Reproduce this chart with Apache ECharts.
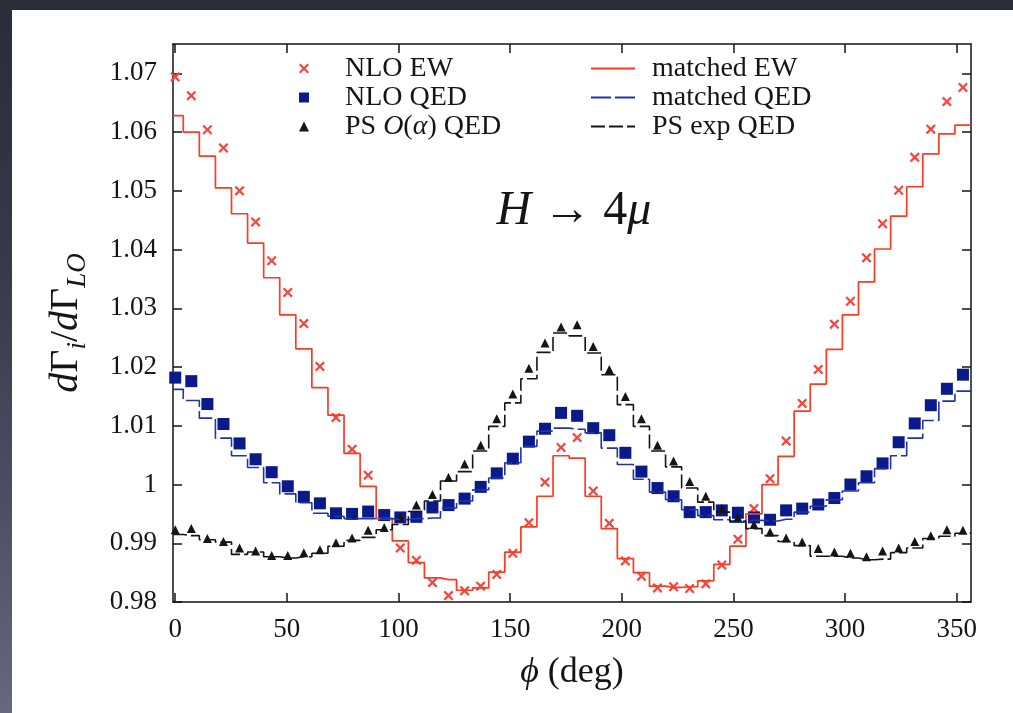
<!DOCTYPE html>
<html><head><meta charset="utf-8">
<script src="https://cdn.jsdelivr.net/npm/echarts@6/dist/echarts.min.js"></script>
<style>
html,body{margin:0;padding:0;width:1013px;height:713px;overflow:hidden;
background:linear-gradient(to bottom,#2a2c3a 0%,#363849 35%,#4c4e62 70%,#66687c 100%);}
#chart{position:absolute;left:12px;top:10px;width:1001px;height:703px;background:#fff;}
</style></head><body><div id="chart"></div>
<script>
// ---- data (bin centres every 7.2 deg, 50 bins) ----
const binWidth = 7.2;
const nloEW = [1.0694,1.0662,1.0604,1.0573,1.0500,1.0447,1.0381,1.0327,1.0274,1.0201,
  1.0114,1.0060,1.0016,0.9950,0.9892,0.9871,0.9833,0.9811,0.9819,0.9827,
  0.9847,0.9883,0.9935,1.0004,1.0063,1.0080,0.9989,0.9934,0.9870,0.9844,
  0.9824,0.9826,0.9823,0.9831,0.9863,0.9907,0.9959,1.0010,1.0074,1.0138,
  1.0196,1.0273,1.0312,1.0386,1.0444,1.0501,1.0557,1.0605,1.0652,1.0676];
const nloQED = [1.0182,1.0176,1.0137,1.0103,1.0070,1.0043,1.0021,0.9997,0.9979,0.9968,
  0.9951,0.9950,0.9954,0.9948,0.9944,0.9945,0.9961,0.9965,0.9976,0.9996,
  1.0019,1.0044,1.0073,1.0095,1.0122,1.0117,1.0096,1.0084,1.0054,1.0022,
  0.9994,0.9980,0.9953,0.9953,0.9956,0.9952,0.9944,0.9940,0.9956,0.9959,
  0.9966,0.9977,1.0000,1.0014,1.0036,1.0072,1.0104,1.0135,1.0163,1.0187];
const psOalpha = [0.9923,0.9925,0.9908,0.9903,0.9892,0.9887,0.9879,0.9879,0.9884,0.9889,
  0.9901,0.9909,0.9922,0.9927,0.9944,0.9965,0.9983,1.0012,1.0035,1.0067,
  1.0112,1.0154,1.0198,1.0241,1.0268,1.0272,1.0235,1.0196,1.0150,1.0112,
  1.0067,1.0040,1.0005,0.9980,0.9959,0.9944,0.9932,0.9919,0.9909,0.9902,
  0.9891,0.9885,0.9883,0.9877,0.9887,0.9892,0.9903,0.9913,0.9923,0.9922];
const matchedEW = [1.0628,1.0600,1.0559,1.0505,1.0461,1.0411,1.0352,1.0289,1.0231,1.0165,
  1.0118,1.0053,0.9997,0.9942,0.9904,0.9867,0.9841,0.9838,0.9820,0.9824,
  0.9851,0.9885,0.9928,0.9980,1.0049,1.0045,0.9980,0.9925,0.9874,0.9850,
  0.9827,0.9825,0.9826,0.9836,0.9864,0.9895,0.9950,1.0000,1.0048,1.0125,
  1.0171,1.0230,1.0289,1.0345,1.0401,1.0457,1.0507,1.0563,1.0597,1.0612];
const matchedQED = [1.0162,1.0143,1.0113,1.0079,1.0049,1.0029,1.0003,0.9984,0.9969,0.9951,
  0.9946,0.9942,0.9942,0.9942,0.9940,0.9942,0.9943,0.9960,0.9972,0.9991,
  1.0011,1.0037,1.0065,1.0091,1.0096,1.0094,1.0088,1.0062,1.0034,1.0009,
  0.9987,0.9974,0.9957,0.9947,0.9940,0.9936,0.9939,0.9938,0.9941,0.9953,
  0.9963,0.9974,0.9989,1.0003,1.0027,1.0049,1.0079,1.0109,1.0142,1.0159];
const psExp = [0.9915,0.9913,0.9906,0.9902,0.9881,0.9885,0.9877,0.9875,0.9877,0.9883,
  0.9895,0.9905,0.9910,0.9923,0.9932,0.9954,0.9972,1.0006,1.0022,1.0057,
  1.0099,1.0139,1.0180,1.0225,1.0258,1.0253,1.0224,1.0187,1.0136,1.0099,
  1.0057,1.0030,0.9994,0.9970,0.9953,0.9938,0.9925,0.9913,0.9903,0.9896,
  0.9878,0.9878,0.9875,0.9872,0.9873,0.9884,0.9892,0.9908,0.9912,0.9917];
const xTicks = [0,50,100,150,200,250,300,350];
const yTicks = [0.98,0.99,1.00,1.01,1.02,1.03,1.04,1.05,1.06,1.07];
const xRange = [-1, 356.4];
const yRange = [0.98, 1.075];

const phi = nloEW.map((_, i) => +(i * binWidth).toFixed(1));
const pts = vals => vals.map((v, i) => [phi[i], v]);
const steps = vals => [[xRange[0], vals[0]], ...pts(vals), [xRange[1], vals[vals.length - 1]]];

const serif = '"Liberation Serif","DejaVu Serif",serif';
const black = '#151515';
const red = '#ff3a22', redX = '#f4473f', navy = '#0a1a8a', blueLine = '#2233aa';
const xPath = 'path://M0,1.6 L1.6,0 L5,3.4 L8.4,0 L10,1.6 L6.6,5 L10,8.4 L8.4,10 L5,6.6 L1.6,10 L0,8.4 L3.4,5 Z';

const axisLine = {show: true, onZero: false, lineStyle: {color: black, width: 1.5}};
const tick = vals => ({show: true, inside: true, length: 9, customValues: vals, lineStyle: {color: black, width: 1.5}});
const labelFont = {fontFamily: serif, fontSize: 27, color: black};

const chart = echarts.init(document.getElementById('chart'));
chart.setOption({
  animation: false,
  backgroundColor: '#ffffff',
  grid: {left: 161, right: 42, top: 34, bottom: 111, show: false},
  xAxis: [
    {type: 'value', position: 'bottom', min: xRange[0], max: xRange[1],
     axisLine, axisTick: tick(xTicks), splitLine: {show: false},
     axisLabel: Object.assign({customValues: xTicks, margin: 14}, labelFont),
     name: '{it|ϕ} (deg)', nameLocation: 'middle', nameGap: 53,
     nameTextStyle: {fontFamily: serif, fontSize: 36, color: black,
       rich: {it: {fontFamily: serif, fontSize: 36, fontStyle: 'italic', color: black}}}},
    {type: 'value', position: 'top', min: xRange[0], max: xRange[1],
     axisLine, axisTick: tick(xTicks), axisLabel: {show: false}, splitLine: {show: false}}
  ],
  yAxis: [
    {type: 'value', position: 'left', min: yRange[0], max: yRange[1],
     axisLine, axisTick: tick(yTicks), splitLine: {show: false},
     axisLabel: Object.assign({customValues: yTicks, margin: 16,
       formatter: v => (+v).toFixed(2).replace(/\.?0+$/, '')}, labelFont),
     name: '{it|d}Γ{sub|i}/{it|d}Γ{sub|LO}', nameLocation: 'middle', nameGap: 82,
     nameTextStyle: {fontFamily: serif, fontSize: 40, color: black, lineHeight: 50,
       rich: {
         it: {fontFamily: serif, fontSize: 40, fontStyle: 'italic', color: black, lineHeight: 50},
         sub: {fontFamily: serif, fontSize: 27, fontStyle: 'italic', color: black, lineHeight: 27, verticalAlign: 'bottom'}
       }}},
    {type: 'value', position: 'right', min: yRange[0], max: yRange[1],
     axisLine, axisTick: tick(yTicks), axisLabel: {show: false}, splitLine: {show: false}}
  ],
  legend: [
    {orient: 'vertical', left: 287, top: 44, padding: 0, itemWidth: 10, itemHeight: 10, itemGap: 0,
     data: [{name: 'NLO EW', icon: xPath}, {name: 'NLO QED', icon: 'rect'}, {name: 'PS O(α) QED', icon: 'triangle'}],
     formatter: n => n === 'PS O(α) QED' ? 'PS {o|O}({o|α}) QED' : n,
     textStyle: {fontFamily: serif, fontSize: 28, color: black, lineHeight: 29, padding: [0, 0, 0, 31],
       rich: {o: {fontFamily: serif, fontSize: 28, fontStyle: 'italic', color: black, lineHeight: 29}}}},
    {orient: 'vertical', left: 578, top: 44, padding: 0, itemWidth: 44, itemHeight: 10, itemGap: 0,
     itemStyle: {opacity: 0},
     data: ['matched EW', 'matched QED', 'PS exp QED'],
     textStyle: {fontFamily: serif, fontSize: 28, color: black, lineHeight: 29, padding: [0, 0, 0, 12]}}
  ],
  graphic: [{
    type: 'text', x: 574 - 12, y: 211 - 10, z: 10,
    style: {text: '{i|H} → 4{i|μ}', align: 'center', verticalAlign: 'middle',
      fontFamily: serif, fontSize: 48, fill: black,
      rich: {i: {fontFamily: serif, fontSize: 48, fontStyle: 'italic', fill: black}}}
  }],
  series: [
    {name: 'NLO EW', type: 'scatter', data: pts(nloEW), symbol: xPath, symbolSize: 10,
     itemStyle: {color: redX, opacity: 1}, z: 3},
    {name: 'NLO QED', type: 'scatter', data: pts(nloQED), symbol: 'rect', symbolSize: 12,
     itemStyle: {color: navy, opacity: 1}, z: 3},
    {name: 'PS O(α) QED', type: 'scatter', data: pts(psOalpha), symbol: 'triangle', symbolSize: 9,
     itemStyle: {color: black, opacity: 1}, z: 3},
    {name: 'matched EW', type: 'line', step: 'middle', data: steps(matchedEW), symbol: 'none',
     color: red, lineStyle: {color: red, width: 1.7}, z: 4},
    {name: 'matched QED', type: 'line', step: 'middle', data: steps(matchedQED), symbol: 'none',
     color: blueLine, lineStyle: {color: blueLine, width: 1.6, type: [20, 4]}, z: 4},
    {name: 'PS exp QED', type: 'line', step: 'middle', data: steps(psExp), symbol: 'none',
     color: black, lineStyle: {color: black, width: 1.6, type: [14, 4]}, z: 4}
  ]
});
</script></body></html>
